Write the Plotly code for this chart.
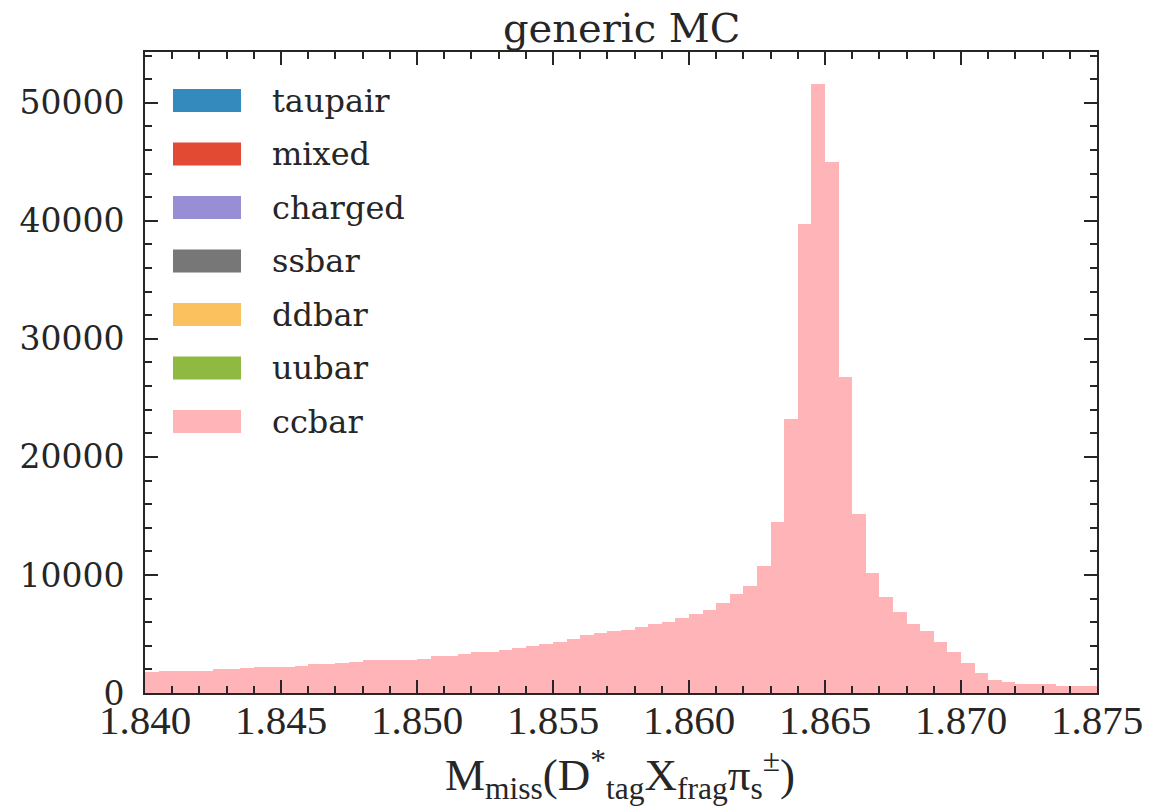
import plotly.graph_objects as go

# ---- data ----
bin_start = 1.840
bin_width = 0.0005
categories = ["taupair", "mixed", "charged", "ssbar", "ddbar", "uubar", "ccbar"]
colors = ["#348ABD", "#E24A33", "#988ED5", "#777777", "#FBC15E", "#8EBA42", "#FFB5B8"]

ccbar = [
    1780, 1850, 1860, 1870, 1880, 2050, 2070, 2090, 2200, 2220,
    2240, 2260, 2420, 2450, 2580, 2620, 2760, 2780, 2800, 2820,
    2920, 3100, 3130, 3300, 3450, 3480, 3650, 3820, 3990, 4190,
    4360, 4560, 4900, 5090, 5260, 5300, 5620, 5820, 5990, 6360,
    6720, 7060, 7650, 8360, 9090, 10750, 14500, 23200, 39700, 51600,
    45000, 26800, 15200, 10150, 8150, 6900, 5820, 5280, 4350, 3470,
    2570, 1670, 1130, 930, 770, 760, 750, 600, 590, 580,
]
nbins = len(ccbar)
zeros = [0] * nbins
series = {
    "taupair": zeros, "mixed": zeros, "charged": zeros, "ssbar": zeros,
    "ddbar": zeros, "uubar": zeros, "ccbar": ccbar,
}
x_centers = [bin_start + bin_width * (i + 0.5) for i in range(nbins)]
xticks = [1.840, 1.845, 1.850, 1.855, 1.860, 1.865, 1.870, 1.875]
xticklabels = ["1.840", "1.845", "1.850", "1.855", "1.860", "1.865", "1.870", "1.875"]
yticks = [0, 10000, 20000, 30000, 40000, 50000]

# ---- layout geometry (pixels) ----
W, H = 1169, 812
L, R, T, B = 145, 1097, 52, 693
pw, ph = R - L, B - T
def px(x): return (x - L) / pw
def py(y): return (B - y) / ph

fig = go.Figure()
for name, col in zip(categories, colors):
    fig.add_trace(go.Bar(
        x=x_centers, y=series[name], width=[bin_width] * nbins,
        name=name, marker=dict(color=col, line=dict(width=0)),
        showlegend=False,
    ))

# manual legend (wide patches like matplotlib)
shapes, annotations = [], []
for i, (name, col) in enumerate(zip(categories, colors)):
    yc = 100.5 + 53.5 * i
    shapes.append(dict(type="rect", xref="paper", yref="paper",
                       x0=px(173), x1=px(241), y0=py(yc + 11.5), y1=py(yc - 11.5),
                       fillcolor=col, line=dict(width=0), layer="above"))
    annotations.append(dict(xref="paper", yref="paper", x=px(270), y=py(yc),
                            text=name, showarrow=False, xanchor="left", yanchor="middle",
                            font=dict(family="DejaVu Serif", size=32, color="#262626")))

annotations.append(dict(xref="paper", yref="paper", x=0.5, y=py(28), text="generic MC",
                        showarrow=False, xanchor="center", yanchor="middle",
                        font=dict(family="DejaVu Serif", size=40, color="#262626")))
annotations.append(dict(xref="paper", yref="paper", x=px(620), y=py(808),
                        text="M<sub>miss</sub>(D<sup>*</sup><sub>tag</sub>X<sub>frag</sub>π<sub>s</sub><sup>±</sup>)",
                        showarrow=False, xanchor="center", yanchor="bottom",
                        font=dict(family="Liberation Serif", size=45, color="#262626")))

axis_common = dict(showline=True, linecolor="#262626", linewidth=2, mirror="ticks",
                   ticks="inside", tickcolor="#262626", tickwidth=2, ticklen=13,
                   showgrid=False, zeroline=False)

fig.update_layout(
    width=W, height=H,
    margin=dict(l=L, r=W - R, t=T, b=H - B, pad=0),
    paper_bgcolor="white", plot_bgcolor="white",
    barmode="stack", bargap=0,
    shapes=shapes, annotations=annotations,
    xaxis=dict(range=[1.840, 1.875], tickvals=xticks, ticktext=xticklabels,
               tickfont=dict(family="Liberation Serif", size=41, color="#262626"),
               ticklabelstandoff=-10,
               minor=dict(ticks="inside", ticklen=7, tickwidth=1.5, tickcolor="#262626", dtick=0.001, showgrid=False),
               **axis_common),
    yaxis=dict(range=[0, 54300], tickvals=yticks, ticktext=[str(v) for v in yticks],
               tickfont=dict(family="DejaVu Serif", size=33, color="#262626"),
               ticklabelstandoff=12,
               minor=dict(ticks="inside", ticklen=7, tickwidth=1.5, tickcolor="#262626", dtick=2000, showgrid=False),
               **axis_common),
)

fig.write_html("out.html")
